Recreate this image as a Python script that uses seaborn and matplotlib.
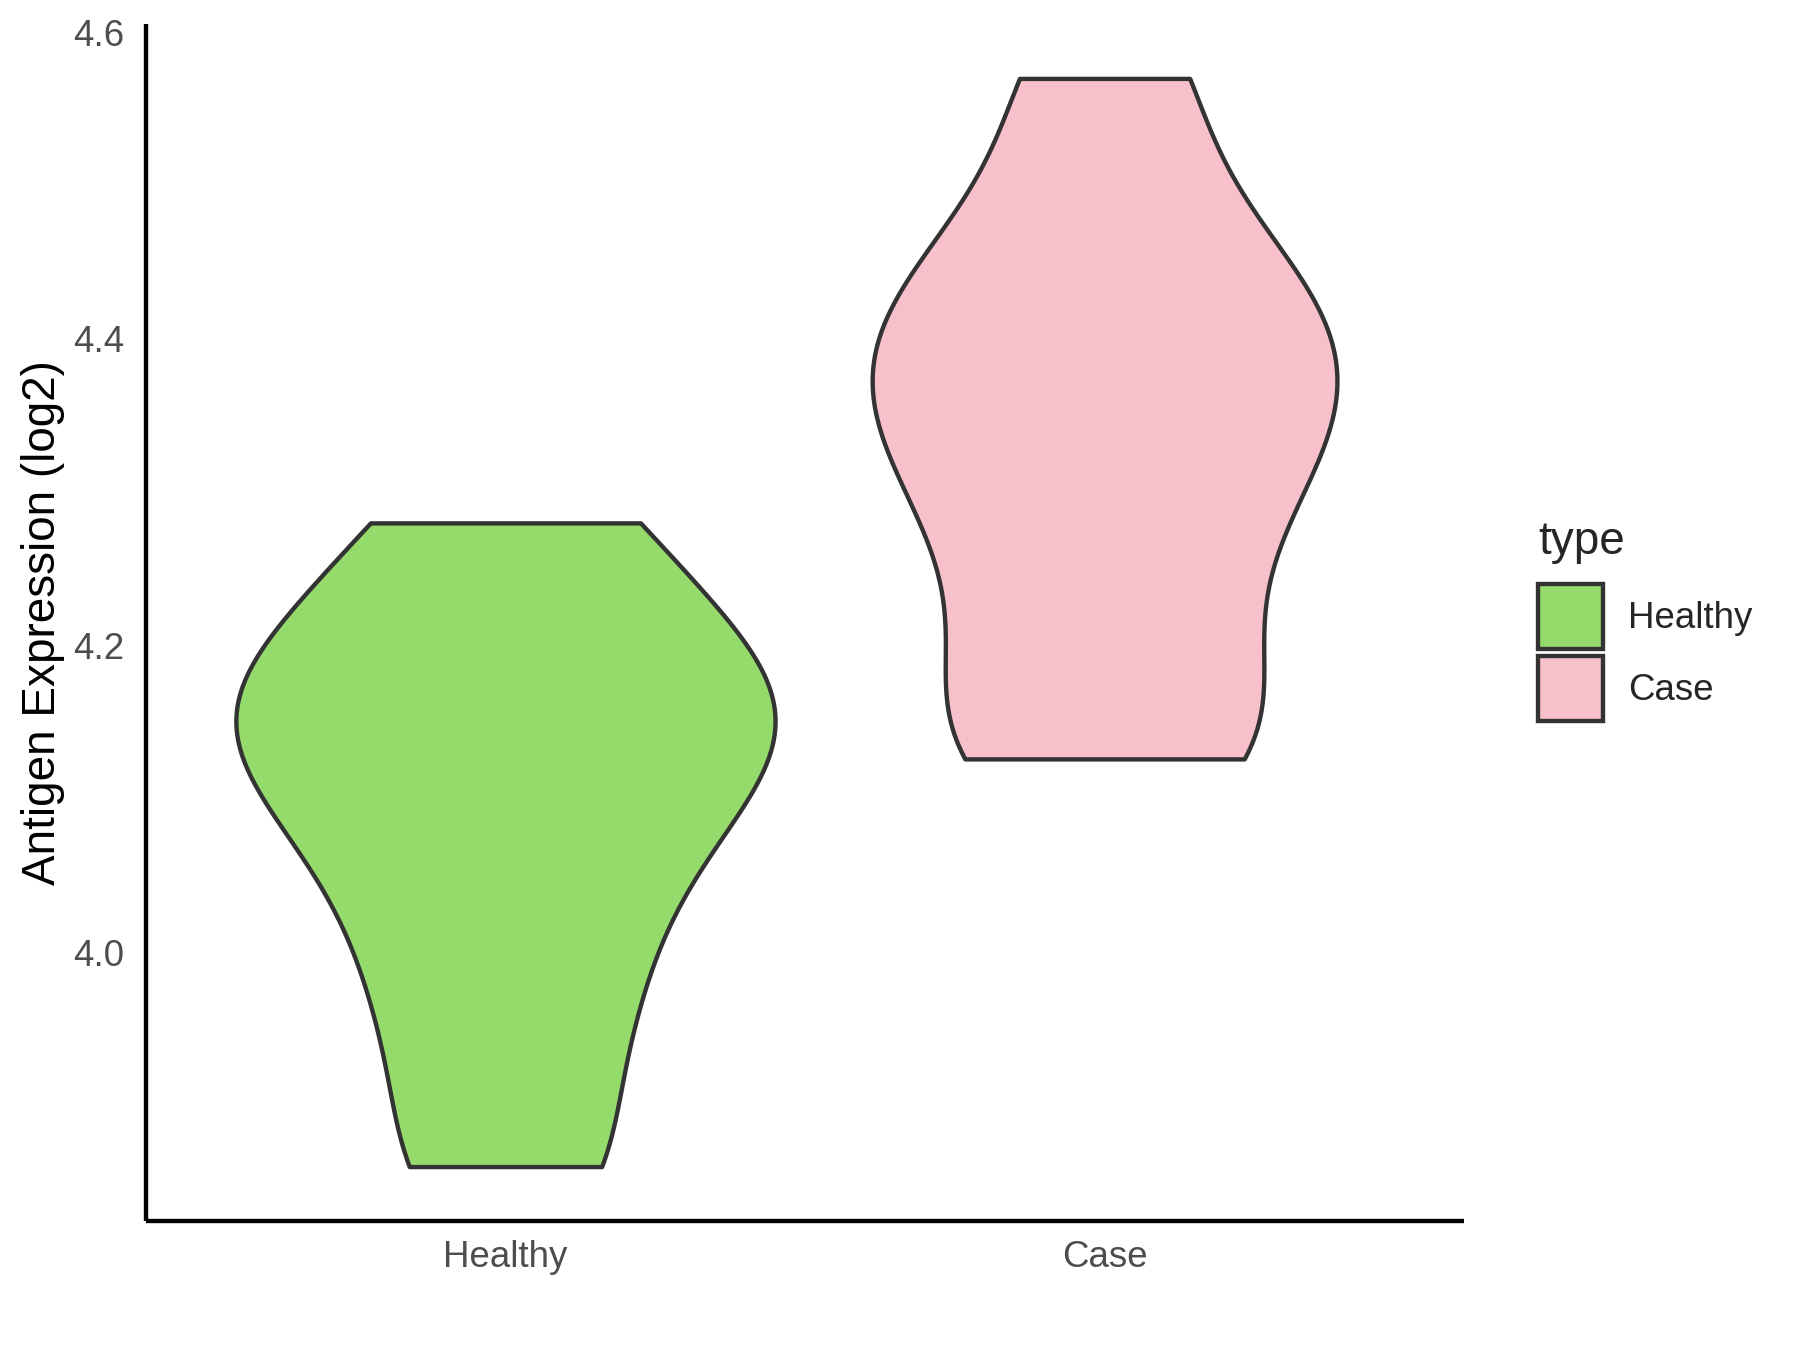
import numpy as np
import pandas as pd
import matplotlib
matplotlib.use("Agg")
import matplotlib.pyplot as plt
import seaborn as sns
from matplotlib.patches import Patch

# ---------------- data ----------------
categories = ["Healthy", "Case"]
healthy_values = [3.86, 3.96, 4.04, 4.10, 4.14, 4.17, 4.21, 4.28]
case_values = [4.126, 4.15, 4.235, 4.30, 4.345, 4.38, 4.42, 4.465, 4.57]
fill_colors = ["#95DB6C", "#F7C0CB"]
y_ticks = [4.0, 4.2, 4.4, 4.6]
y_tick_labels = ["4.0", "4.2", "4.4", "4.6"]
y_label = "Antigen Expression (log2)"
legend_title = "type"

BW_FACTOR = 0.4376  # kernel bandwidth = factor * sd of each group

df = pd.DataFrame({
    "type": [categories[0]] * len(healthy_values) + [categories[1]] * len(case_values),
    "value": healthy_values + case_values,
})

sns.set_theme(style="white")
plt.rcParams["font.family"] = ["Liberation Sans", "DejaVu Sans"]

W, H = 1800, 1350
fig = plt.figure(figsize=(12, 9), dpi=150)
ax_left, ax_right, ax_top, ax_bottom = 146, 1464, 24, 1221
ax = fig.add_axes([ax_left / W, 1 - ax_bottom / H, (ax_right - ax_left) / W, (ax_bottom - ax_top) / H])

line_col = "#333333"
lw = 2.1

sns.violinplot(
    data=df, x="type", y="value", hue="type",
    order=categories, hue_order=categories,
    palette=dict(zip(categories, fill_colors)),
    cut=0, width=0.9, inner=None, linewidth=lw, linecolor=line_col,
    density_norm="area", common_norm=True, saturation=1,
    bw_method=BW_FACTOR, gridsize=400, legend=False, ax=ax,
)

# ggplot-like expansions
ax.set_xlim(-0.6, 1.6)
allv = healthy_values + case_values
lo, hi = min(allv), max(allv)
pad = 0.05 * (hi - lo)
ax.set_ylim(lo - pad, hi + pad)
ax.set_yticks(y_ticks)
ax.set_yticklabels(y_tick_labels)
ax.set_xticks(range(len(categories)))
ax.set_xticklabels(categories)

ax.set_xlabel("")
ax.set_ylabel(y_label, fontsize=22, color="black", labelpad=4)

for s in ["top", "right"]:
    ax.spines[s].set_visible(False)
for s in ["left", "bottom"]:
    ax.spines[s].set_linewidth(lw)
    ax.spines[s].set_color("black")
    ax.spines[s].set_capstyle("butt")

ax.tick_params(axis="both", which="major", length=5.5, width=lw, color=line_col,
               labelsize=17.6, labelcolor="#4D4D4D", direction="out")
ax.tick_params(axis="x", pad=3.5)
ax.tick_params(axis="y", pad=5)
ax.grid(False)

handles = [Patch(facecolor=c, edgecolor=line_col, linewidth=lw, label=l)
           for c, l in zip(fill_colors, categories)]
leg = ax.legend(handles=handles, title=legend_title, loc="center left",
                bbox_to_anchor=(1.056, 0.502), frameon=False, fontsize=17.6,
                title_fontsize=22, handlelength=1.77, handleheight=2.333,
                handletextpad=0.68, labelspacing=0.2, borderpad=0,
                borderaxespad=0, alignment="left")
leg._legend_box.sep = 9.9

fig.savefig("out.png", dpi=150, facecolor="white")
